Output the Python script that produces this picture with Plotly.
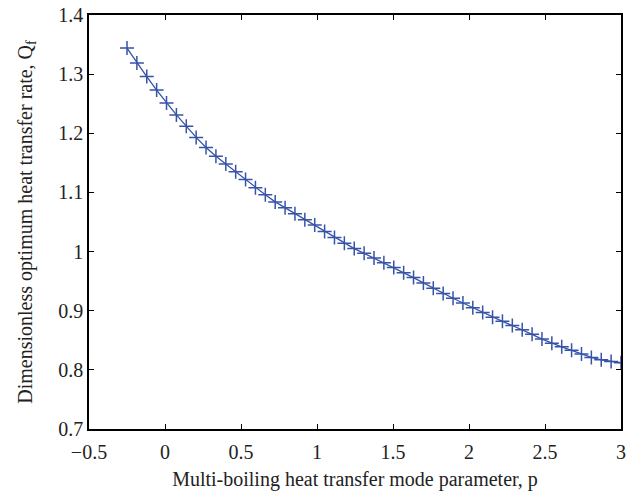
import plotly.graph_objects as go

p_start = -0.25
p_step = 0.065
Q_f = [1.344, 1.319, 1.296, 1.273, 1.251, 1.231, 1.212, 1.193, 1.176, 1.161,
       1.148, 1.135, 1.122, 1.108, 1.096, 1.084, 1.074, 1.064, 1.054, 1.045,
       1.034, 1.024, 1.014, 1.005, 0.997, 0.989, 0.981, 0.973, 0.964, 0.956,
       0.947, 0.938, 0.929, 0.921, 0.913, 0.905, 0.897, 0.889, 0.882, 0.875,
       0.868, 0.860, 0.852, 0.845, 0.839, 0.833, 0.827, 0.821, 0.817, 0.814,
       0.812]
p = [round(p_start + i * p_step, 4) for i in range(len(Q_f))]

x_ticks = [-0.5, 0, 0.5, 1, 1.5, 2, 2.5, 3]
y_ticks = [0.7, 0.8, 0.9, 1.0, 1.1, 1.2, 1.3, 1.4]
y_tick_text = ["0.7", "0.8", "0.9", "1", "1.1", "1.2", "1.3", "1.4"]

color = "#3653a8"
font = "Liberation Serif, Times New Roman, serif"
fsize = 20

fig = go.Figure(go.Scatter(
    x=p, y=Q_f, mode="lines+markers",
    line=dict(color=color, width=1.3),
    marker=dict(symbol="cross-thin", size=10, line=dict(color=color, width=1.5)),
    showlegend=False,
))

axis_common = dict(
    showline=True, linecolor="black", linewidth=1.5, mirror="ticks",
    ticks="inside", ticklen=5, tickwidth=1, tickcolor="black",
    showgrid=False, zeroline=False, automargin=False,
    tickfont=dict(family=font, size=fsize, color="#222"),
)

fig.update_xaxes(range=[-0.5, 3], tickvals=x_ticks, ticklabelstandoff=4,
                 title=dict(text="Multi-boiling heat transfer mode parameter, p",
                            font=dict(family=font, size=fsize, color="#222"), standoff=10),
                 **axis_common)
fig.update_yaxes(range=[0.7, 1.4], tickvals=y_ticks, ticktext=y_tick_text,
                 title=dict(text="Dimensionless optimum heat transfer rate, Q<sub>f</sub>",
                            font=dict(family=font, size=fsize, color="#222"), standoff=20),
                 **axis_common)

fig.update_layout(
    width=637, height=495,
    margin=dict(l=89, r=16, t=15, b=66),
    plot_bgcolor="white", paper_bgcolor="white",
)

fig.write_html("out.html")
